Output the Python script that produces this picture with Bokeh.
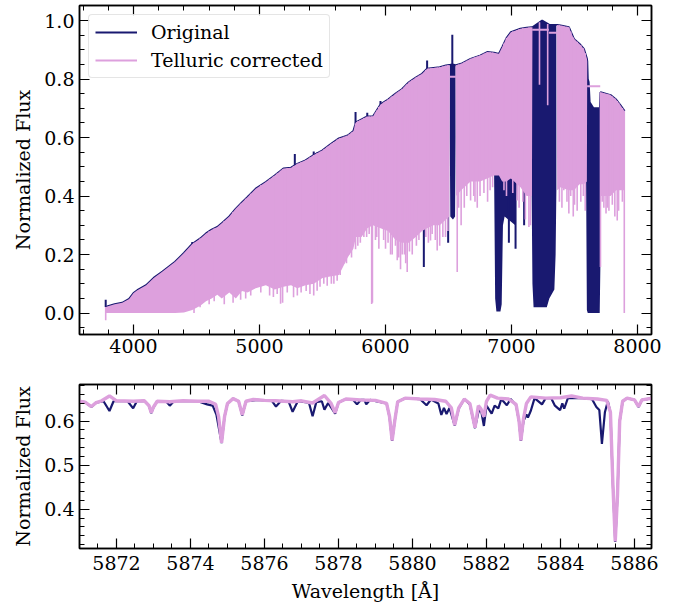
import numpy as np
from bokeh.plotting import figure
from bokeh.models import (LinearAxis, SingleIntervalTicker, NumeralTickFormatter,
                          Range1d, Legend, LegendItem, CustomLabelingPolicy)
from bokeh.layouts import column
from bokeh.embed import file_html
from bokeh.resources import INLINE

NAVY = "#191970"
PLUM = "#dda0dd"
FONT = "'DejaVu Serif', 'Liberation Serif', serif"

# ---------------- top panel: full spectrum ----------------
env_wl = [3778, 3790, 3850, 3910, 3965, 4000, 4030, 4100, 4160, 4230, 4330, 4400,
          4466, 4530, 4575, 4620, 4665, 4700, 4760, 4812, 4860, 4905, 4970, 5050,
          5120, 5190, 5250, 5300, 5365, 5430, 5500, 5560, 5630, 5700, 5745, 5765,
          5810, 5855, 5900, 5960, 6020, 6080, 6130, 6185, 6240, 6290, 6330, 6380,
          6430, 6480, 6506, 6510, 6530, 6556, 6560, 6600, 6675, 6750, 6807, 6860,
          6900, 6926, 6960, 6995, 7071, 7120, 7162, 7166, 7243, 7300, 7358, 7362,
          7389, 7455, 7495, 7540, 7574, 7598, 7601, 7605, 7612, 7620, 7650, 7702,
          7706, 7786, 7830, 7865, 7897]
env_top = [0.020, 0.022, 0.030, 0.035, 0.048, 0.068, 0.078, 0.095, 0.120, 0.142, 0.175, 0.205,
           0.236, 0.255, 0.272, 0.285, 0.294, 0.307, 0.330, 0.357, 0.378, 0.397, 0.425, 0.448,
           0.470, 0.494, 0.497, 0.510, 0.522, 0.540, 0.556, 0.576, 0.597, 0.607, 0.622, 0.652,
           0.662, 0.672, 0.672, 0.713, 0.730, 0.750, 0.765, 0.789, 0.805, 0.818, 0.835, 0.838,
           0.840, 0.846, 0.848, 0.848, 0.850, 0.847, 0.847, 0.852, 0.869, 0.880, 0.892, 0.890,
           0.886, 0.909, 0.940, 0.960, 0.972, 0.975, 0.977, 0.977, 1.000, 0.985, 0.985, 0.985,
           0.983, 0.977, 0.937, 0.920, 0.903, 0.870, 0.860, 0.800, 0.790, 0.720, 0.700, 0.700,
           0.755, 0.745, 0.730, 0.710, 0.690]
env_bot = [0.000, 0.000, 0.000, 0.000, 0.000, 0.000, 0.000, 0.000, 0.000, 0.000, 0.000, 0.002,
           0.010, 0.025, 0.040, 0.050, 0.062, 0.050, 0.070, 0.050, 0.075, 0.070, 0.085, 0.095,
           0.080, 0.090, 0.095, 0.085, 0.095, 0.100, 0.120, 0.125, 0.130, 0.190, 0.220, 0.260,
           0.260, 0.290, 0.300, 0.290, 0.280, 0.250, 0.240, 0.240, 0.260, 0.280, 0.290, 0.300,
           0.300, 0.320, 0.330, 0.330, 0.350, 0.380, 0.400, 0.420, 0.450, 0.450, 0.460, 0.470,
           0.470, 0.450, 0.450, 0.460, 0.430, 0.400, 0.400, 0.400, 0.400, 0.400, 0.420, 0.420,
           0.430, 0.420, 0.420, 0.440, 0.440, 0.450, 0.450, 0.450, 0.450, 0.450, 0.450, 0.450,
           0.400, 0.400, 0.420, 0.420, 0.420]

# regions replaced by straight lines in the telluric-corrected spectrum
mask_lo = [6508, 7164, 7296, 7600]
mask_hi = [6558, 7296, 7360, 7704]
mask_lvl = [0.808, 0.968, 0.958, 0.775]

# telluric bands / deep features only present in the original spectrum
ha_wl = [6510, 6514, 6535, 6552, 6556]
ha_top = [0.848, 0.850, 0.850, 0.847, 0.847]
ha_bot = [0.600, 0.330, 0.320, 0.330, 0.600]

bband_wl = [6862, 6870, 6880, 6912, 6922, 6932, 6945, 7030, 7040]
bband_top = [0.890, 0.890, 0.888, 0.886, 0.900, 0.910, 0.920, 0.965, 0.968]
bband_bot = [0.460, 0.050, 0.005, 0.005, 0.030, 0.300, 0.330, 0.300, 0.450]

wband_wl = [7160, 7166, 7175, 7243, 7280, 7300, 7340, 7350, 7356]
wband_top = [0.977, 0.977, 0.980, 1.000, 0.990, 0.985, 0.985, 0.985, 0.985]
wband_bot = [0.400, 0.100, 0.020, 0.020, 0.020, 0.050, 0.080, 0.200, 0.420]

aband_wl = [7592, 7598, 7605, 7612, 7620, 7650, 7690, 7700, 7705, 7710]
aband_top = [0.870, 0.870, 0.800, 0.790, 0.720, 0.700, 0.700, 0.700, 0.755, 0.755]
aband_bot = [0.450, 0.010, 0.000, 0.000, 0.000, 0.000, 0.000, 0.000, 0.150, 0.400]

# individual deep lines only in the original
orig_line_wl = [5974, 6280, 6304, 6497, 6979, 7032, 7100]
orig_line_min = [0.320, 0.300, 0.157, 0.240, 0.240, 0.220, 0.300]
# spikes above the continuum in the original
orig_peak_wl = [3779, 4466, 4915, 5280, 5430, 5460, 5762, 5855, 5960, 6330, 6530]
orig_peak_max = [0.045, 0.243, 0.398, 0.544, 0.552, 0.550, 0.687, 0.685, 0.725, 0.863, 0.951]

# deep absorption lines of the corrected spectrum
corr_line_wl = [3779, 4480, 4528, 4600, 4640, 4720, 4790, 4850, 4890, 4930, 5010, 5080,
                5110, 5140, 5167, 5183, 5220, 5270, 5300, 5330, 5370, 5400, 5430, 5457,
                5480, 5510, 5537, 5570, 5590, 5616, 5640, 5669, 5690, 5710, 5730, 5762,
                5780, 5800, 5828, 5850, 5870, 5890, 5896, 5920, 5930, 5947, 5985, 6000,
                6020, 6040, 6053, 6079, 6093, 6105, 6119, 6132, 6150, 6160, 6172, 6190,
                6212, 6245, 6265, 6320, 6340, 6357, 6370, 6395, 6410, 6430, 6455, 6476,
                6495, 6569, 6580, 6600, 6625, 6645, 6675, 6700, 6710, 6728, 6750, 6781,
                6810, 6830, 6850, 6940, 6960, 7010, 7045, 7060, 7090, 7110, 7138, 7150,
                7222, 7287, 7380, 7400, 7415, 7440, 7455, 7470, 7490, 7500, 7521, 7550,
                7570, 7585, 7706, 7720, 7733, 7750, 7760, 7773, 7800, 7820, 7839, 7850,
                7880, 7895]
corr_line_min = [-0.025, 0.000, 0.020, 0.030, 0.040, 0.030, 0.035, 0.045, 0.050, 0.060, 0.070, 0.060,
                 0.055, 0.065, 0.032, 0.035, 0.070, 0.054, 0.060, 0.070, 0.075, 0.065, 0.060, 0.076,
                 0.090, 0.100, 0.093, 0.100, 0.100, 0.110, 0.130, 0.168, 0.170, 0.200, 0.190, 0.218,
                 0.230, 0.240, 0.260, 0.260, 0.270, 0.031, 0.035, 0.250, 0.260, 0.220, 0.250, 0.220,
                 0.240, 0.200, 0.200, 0.230, 0.180, 0.190, 0.150, 0.200, 0.200, 0.170, 0.140, 0.210,
                 0.200, 0.230, 0.250, 0.260, 0.240, 0.248, 0.270, 0.250, 0.214, 0.230, 0.260, 0.260,
                 0.280, 0.140, 0.360, 0.300, 0.360, 0.400, 0.385, 0.400, 0.380, 0.360, 0.400, 0.410,
                 0.380, 0.420, 0.430, 0.420, 0.400, 0.410, 0.385, 0.360, 0.380, 0.320, 0.294, 0.300,
                 0.780, 0.710, 0.380, 0.360, 0.420, 0.380, 0.340, 0.400, 0.330, 0.370, 0.350, 0.380,
                 0.400, 0.350, 0.157, 0.380, 0.360, 0.340, 0.360, 0.350, 0.370, 0.330, 0.316, 0.350,
                 0.380, 0.000]

# ---------------- bottom panel: zoom around 5871-5886 A ----------------
corr_wl = [5871.00, 5871.15, 5871.32, 5871.45, 5871.60, 5871.81, 5872.00, 5872.45, 5872.75,
           5872.88, 5872.94, 5873.00, 5873.10, 5873.44, 5873.80, 5874.20, 5874.50, 5874.68,
           5874.76, 5874.84, 5874.92, 5875.00, 5875.15, 5875.30, 5875.40, 5875.50, 5875.70,
           5876.00, 5876.30, 5876.76, 5877.00, 5877.30, 5877.62, 5877.80, 5877.91, 5878.00,
           5878.20, 5878.60, 5879.00, 5879.30, 5879.38, 5879.45, 5879.52, 5879.60, 5879.80,
           5880.20, 5880.60, 5880.90, 5881.05, 5881.14, 5881.25, 5881.40, 5881.55, 5881.69,
           5881.78, 5881.85, 5881.93, 5882.00, 5882.10, 5882.30, 5882.60, 5882.80, 5882.88,
           5882.93, 5883.00, 5883.08, 5883.20, 5883.60, 5884.00, 5884.30, 5884.60, 5885.00,
           5885.25, 5885.35, 5885.42, 5885.48, 5885.54, 5885.60, 5885.68, 5885.80, 5886.00,
           5886.11, 5886.20, 5886.50]
corr_flux = [0.645, 0.643, 0.633, 0.642, 0.646, 0.657, 0.646, 0.645, 0.646,
             0.635, 0.619, 0.632, 0.645, 0.644, 0.646, 0.645, 0.645, 0.638,
             0.610, 0.551, 0.610, 0.640, 0.651, 0.645, 0.614, 0.645, 0.649,
             0.647, 0.646, 0.644, 0.646, 0.641, 0.658, 0.640, 0.619, 0.642,
             0.650, 0.648, 0.647, 0.640, 0.610, 0.556, 0.600, 0.644, 0.652,
             0.650, 0.649, 0.645, 0.630, 0.591, 0.630, 0.650, 0.640, 0.585,
             0.635, 0.628, 0.610, 0.645, 0.659, 0.652, 0.650, 0.638, 0.600,
             0.556, 0.605, 0.640, 0.655, 0.652, 0.653, 0.657, 0.652, 0.650,
             0.647, 0.620, 0.450, 0.327, 0.430, 0.600, 0.645, 0.652, 0.648,
             0.633, 0.648, 0.652]

orig_wl = [5871.00, 5871.15, 5871.32, 5871.45, 5871.65, 5871.81, 5871.92, 5872.30, 5872.45,
           5872.55, 5872.75, 5872.88, 5872.94, 5873.00, 5873.10, 5873.35, 5873.44, 5873.55,
           5874.20, 5874.45, 5874.60, 5874.70, 5874.84, 5874.92, 5875.00, 5875.15, 5875.30,
           5875.40, 5875.50, 5875.80, 5876.20, 5876.31, 5876.45, 5876.65, 5876.76, 5876.90,
           5877.20, 5877.30, 5877.40, 5877.55, 5877.62, 5877.72, 5877.91, 5878.00, 5878.20,
           5878.40, 5878.50, 5878.60, 5878.70, 5878.75, 5878.85, 5879.30, 5879.38, 5879.45,
           5879.52, 5879.60, 5879.80, 5880.20, 5880.38, 5880.50, 5880.70, 5880.78, 5880.85,
           5880.92, 5881.00, 5881.14, 5881.25, 5881.40, 5881.55, 5881.69, 5881.78, 5881.85,
           5881.93, 5882.00, 5882.14, 5882.22, 5882.32, 5882.40, 5882.55, 5882.65, 5882.80,
           5882.88, 5882.93, 5883.00, 5883.08, 5883.12, 5883.20, 5883.30, 5883.50, 5883.60,
           5883.75, 5883.85, 5883.99, 5884.05, 5884.10, 5884.20, 5884.40, 5884.60, 5884.85,
           5884.97, 5885.05, 5885.12, 5885.20, 5885.28, 5885.35, 5885.42, 5885.48, 5885.54,
           5885.60, 5885.68, 5885.80, 5886.00, 5886.11, 5886.20, 5886.50]
orig_flux = [0.645, 0.643, 0.632, 0.642, 0.645, 0.623, 0.645, 0.645, 0.629,
             0.645, 0.646, 0.634, 0.618, 0.631, 0.645, 0.644, 0.635, 0.645,
             0.645, 0.638, 0.635, 0.615, 0.550, 0.610, 0.640, 0.651, 0.645,
             0.613, 0.645, 0.648, 0.646, 0.633, 0.646, 0.645, 0.621, 0.645,
             0.642, 0.611, 0.643, 0.645, 0.626, 0.641, 0.617, 0.642, 0.650,
             0.648, 0.638, 0.648, 0.648, 0.638, 0.648, 0.640, 0.609, 0.555,
             0.600, 0.644, 0.652, 0.650, 0.636, 0.649, 0.640, 0.614, 0.630,
             0.616, 0.630, 0.590, 0.628, 0.650, 0.638, 0.584, 0.620, 0.627,
             0.589, 0.635, 0.617, 0.635, 0.629, 0.650, 0.636, 0.650, 0.636,
             0.599, 0.555, 0.600, 0.615, 0.608, 0.624, 0.652, 0.638, 0.652,
             0.652, 0.635, 0.625, 0.640, 0.628, 0.652, 0.652, 0.652, 0.650,
             0.632, 0.625, 0.548, 0.620, 0.645, 0.619, 0.449, 0.326, 0.429,
             0.599, 0.645, 0.652, 0.648, 0.632, 0.648, 0.652]

# ---------------- helpers ----------------
NO_LABELS = CustomLabelingPolicy(code="""
try {
  const n = indices.size
  for (let i = 0; i < n; i++) { indices.unset(i) }
} catch (e) {}
return indices
""")


def style(p, x_int, x_minor, y_int, y_minor, x_fmt, y_fmt, xlabel, ylabel):
    p.add_layout(LinearAxis(), "above")
    p.add_layout(LinearAxis(), "right")
    for ax in list(p.xaxis):
        ax.ticker = SingleIntervalTicker(interval=x_int, num_minor_ticks=x_minor)
        ax.formatter = NumeralTickFormatter(format=x_fmt)
    for ax in list(p.yaxis):
        ax.ticker = SingleIntervalTicker(interval=y_int, num_minor_ticks=y_minor)
        ax.formatter = NumeralTickFormatter(format=y_fmt)
    for ax in list(p.xaxis) + list(p.yaxis):
        ax.major_tick_in = 10
        ax.major_tick_out = 0
        ax.minor_tick_in = 5
        ax.minor_tick_out = 0
        ax.major_tick_line_color = "black"
        ax.minor_tick_line_color = "black"
        ax.major_tick_line_width = 1.2
        ax.minor_tick_line_width = 1.0
        ax.axis_line_color = "black"
        ax.axis_line_width = 1.5
        ax.major_label_text_font = FONT
        ax.major_label_text_font_size = "19px"
        ax.major_label_text_color = "black"
        ax.axis_label_text_font = FONT
        ax.axis_label_text_font_size = "19px"
        ax.axis_label_text_font_style = "normal"
        ax.axis_label_text_color = "black"
    for ax in (p.above[0], p.right[0]):
        ax.major_label_policy = NO_LABELS
        ax.major_label_text_font_size = "0px"
        ax.major_label_standoff = 0
    p.left[0].major_label_standoff = 5
    p.left[0].axis_label = ylabel
    p.left[0].axis_label_standoff = 7
    if xlabel:
        p.below[0].major_label_standoff = 7
        p.below[0].axis_label = xlabel
        p.below[0].axis_label_standoff = 7
    else:
        p.below[0].major_label_standoff = 4
    p.xgrid.visible = False
    p.ygrid.visible = False
    p.outline_line_color = "black"
    p.outline_line_width = 1.5


# ---------------- top figure ----------------
p1 = figure(width=676, height=372, output_backend="svg", toolbar_location=None,
            x_range=Range1d(3571, 8111), y_range=Range1d(-0.0735, 1.0513),
            min_border_left=79, min_border_right=25, min_border_top=5,
            min_border_bottom=38)
style(p1, 1000, 5, 0.2, 4, "0", "0.0", None, "Normalized Flux")

wl = np.array(env_wl, dtype=float)
top = np.array(env_top)
bot = np.array(env_bot)
masked = np.zeros(len(wl), dtype=bool)
for lo, hi in zip(mask_lo, mask_hi):
    masked |= (wl > lo) & (wl < hi)
pink_bot = np.where(masked, top, bot)

# original spectrum (navy)
for bw, bt, bb in ((ha_wl, ha_top, ha_bot), (bband_wl, bband_top, bband_bot),
                   (wband_wl, wband_top, wband_bot), (aband_wl, aband_top, aband_bot)):
    p1.varea(x=bw, y1=bb, y2=bt, fill_color=NAVY)
navy_line = p1.line(wl, top, line_color=NAVY, line_width=2)
o_top = np.interp(orig_line_wl, wl, top)
p1.segment(x0=orig_line_wl, y0=o_top, x1=orig_line_wl, y1=orig_line_min,
           line_color=NAVY, line_width=2)
p_base = np.interp(orig_peak_wl, wl, top)
p1.segment(x0=orig_peak_wl, y0=p_base, x1=orig_peak_wl, y1=orig_peak_max,
           line_color=NAVY, line_width=2)

# telluric corrected spectrum (plum)
p1.varea(x=wl, y1=pink_bot, y2=top, fill_color=PLUM)
c_top = np.interp(corr_line_wl, wl, top)
p1.segment(x0=corr_line_wl, y0=c_top, x1=corr_line_wl, y1=corr_line_min,
           line_color=PLUM, line_width=1.6)
pink_seg = p1.segment(x0=mask_lo, y0=mask_lvl, x1=mask_hi, y1=mask_lvl,
                      line_color=PLUM, line_width=2)

legend = Legend(items=[LegendItem(label="Original", renderers=[navy_line]),
                       LegendItem(label="Telluric corrected", renderers=[pink_seg])],
                location="top_left")
legend.label_text_font = FONT
legend.label_text_font_size = "19px"
legend.label_text_color = "black"
legend.glyph_width = 42
legend.glyph_height = 22
legend.label_standoff = 14
legend.label_height = 22
legend.padding = 6
legend.spacing = 6
legend.margin = 9
legend.border_line_color = "#cccccc"
legend.border_line_width = 1
legend.background_fill_alpha = 0.8
try:
    legend.border_radius = 4
except Exception:
    pass
p1.add_layout(legend)

# ---------------- bottom figure ----------------
p2 = figure(width=676, height=238, output_backend="svg", toolbar_location=None,
            x_range=Range1d(5871.0, 5886.46), y_range=Range1d(0.311, 0.683),
            min_border_left=79, min_border_right=25, min_border_top=12,
            min_border_bottom=62)
style(p2, 2, 4, 0.1, 5, "0", "0.0", "Wavelength [Å]", "Normalized Flux")
p2.line(orig_wl, orig_flux, line_color=NAVY, line_width=2.2)
p2.line(corr_wl, corr_flux, line_color=PLUM, line_width=3.4)

layout = column(p1, p2, spacing=0)
open("out.html", "w").write(file_html(layout, INLINE))
